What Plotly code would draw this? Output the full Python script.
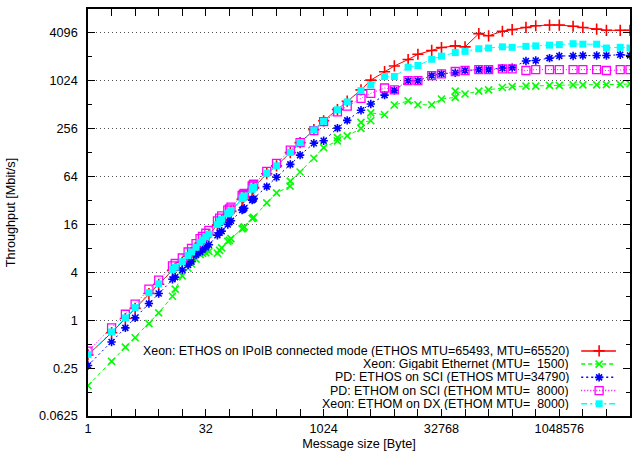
import plotly.graph_objects as go

# ---------------- data ----------------
sizes = [1, 2, 3, 4, 6, 8, 12, 13, 16, 19, 21, 24, 27, 29, 32, 35, 45, 48, 51, 61, 64, 67,
         93, 96, 99, 125, 128, 131, 192, 256, 384, 512, 768, 1024, 1536, 2048, 3072, 4096,
         6144, 8192, 12288, 16384, 24576, 32768, 49152, 65536, 98304, 131072, 196608,
         262144, 393216, 524288, 786432, 1048576, 1572864, 2097152, 3145728, 4194304,
         6291456, 8388608]

xeon_ipoib = [0.366, 0.697, 1.05, 1.41, 2.17, 2.83, 4.23, 4.53, 5.35, 6.36, 7.06, 8.11, 9.32,
              9.99, 11.0, 11.9, 15.7, 16.9, 18.1, 21.4, 22.3, 23.4, 33.1, 34.5, 35.8, 43.7,
              45.3, 46.5, 69.6, 87.4, 128, 171, 249, 322, 446, 568, 787, 1045, 1333, 1574,
              1898, 2210, 2469, 2683, 2817, 2740, 4011, 3769, 4299, 4513, 4803, 5042, 5148,
              5148, 4972, 4803, 4575, 4420, 4420, 4420]

pd_ethos_sci = [0.270, 0.532, 0.801, 1.07, 1.62, 2.17, 3.27, 3.48, 4.29, 4.96, 5.46, 6.63,
                7.21, 7.73, 8.28, 8.88, 11.7, 12.6, 13.2, 16.0, 17.1, 17.8, 24.3, 24.8, 25.6,
                32.4, 33.1, 33.8, 47.8, 62.7, 91.1, 119, 168, 181, 260, 326, 437, 523, 676,
                776, 1024, 1024, 1193, 1252, 1296, 1380, 1418, 1418, 1478, 1499, 1820, 1846,
                1978, 2105, 2105, 2135, 2135, 2135, 2179, 2135]

pd_ethom_sci = [0.409, 0.801, 1.19, 1.59, 2.46, 3.20, 4.82, 5.17, 6.06, 7.21, 8.0, 9.19, 10.6,
                11.3, 12.4, 13.5, 17.8, 19.2, 20.5, 24.3, 25.1, 26.4, 36.8, 38.1, 39.4, 48.5,
                49.9, 51.3, 74.5, 93.7, 138, 171, 242, 315, 416, 491, 617, 714, 832, 787,
                1031, 1031, 1193, 1252, 1342, 1380, 1418, 1418, 1448, 1448, 1380, 1418, 1418,
                1418, 1418, 1418, 1418, 1380, 1418, 1418]

xeon_ethom_dx = [0.369, 0.712, 1.07, 1.44, 2.22, 2.87, 4.35, 4.66, 5.46, 6.50, 7.21, 8.28,
                 9.51, 10.2, 11.2, 12.1, 16.0, 17.4, 18.6, 21.9, 22.6, 23.9, 33.8, 35.3, 36.5,
                 44.3, 45.9, 47.2, 70.5, 87.4, 129, 171, 247, 317, 443, 556, 771, 910, 1160,
                 1160, 1520, 1596, 1911, 2091, 2320, 2402, 2592, 2646, 2740, 2702, 2778, 2817,
                 2876, 2916, 2998, 2957, 2957, 2646, 2702, 2646]

sizes_gige = [1, 2, 3, 4, 6, 8, 12, 13, 16, 19, 21, 24, 27, 29, 32, 35, 45, 48, 51, 61, 64, 67,
              93, 96, 99, 125, 128, 131, 192, 256, 381, 384, 512, 768, 1024, 1533, 1536, 2048,
              3069, 3072, 4093, 4096, 6144, 8192, 12288, 16384, 24576, 32768, 49149, 49152,
              65536, 98304, 131072, 196608, 262144, 393216, 524288, 786432, 1048576, 1572864,
              2097152, 3145728, 4194304, 6291456, 8388608]

xeon_gige = [0.151, 0.304, 0.460, 0.603, 0.908, 1.24, 2.0, 2.46, 3.61, 4.50, 5.10, 5.86, 6.73,
             6.96, 7.06, 7.31, 6.96, 7.57, 8.11, 9.85, 10.1, 10.6, 14.1, 14.4, 14.9, 19.0, 19.3,
             19.7, 29.9, 39.9, 48.5, 56.1, 73.0, 109, 148, 180, 198, 208, 258, 307, 322, 405,
             383, 509, 572, 512, 512, 605, 635, 760, 699, 760, 787, 843, 867, 879, 879, 898,
             898, 910, 910, 910, 916, 923, 936]

labels = ["Xeon: ETHOS on IPoIB connected mode (ETHOS MTU=65493, MTU=65520)",
          "Xeon: Gigabit Ethernet (MTU=  1500)",
          "PD: ETHOS on SCI (ETHOS MTU=34790)",
          "PD: ETHOM on SCI (ETHOM MTU=  8000)",
          "Xeon: ETHOM on DX (ETHOM MTU=  8000)"]

x_tickvals = [1, 32, 1024, 32768, 1048576]
x_minor = [2 ** k for k in range(0, 24)]
y_tickvals = [0.0625, 0.25, 1, 4, 16, 64, 256, 1024, 4096]
y_ticktext = ["0.0625", "0.25", "1", "4", "16", "64", "256", "1024", "4096"]
y_minor = [2.0 ** k for k in range(-4, 14)]
grid_levels = [1, 4, 16, 64, 256, 1024, 4096]

# ---------------- styles ----------------
FONT = "Liberation Sans, Arial, sans-serif"
FS = 12.7
KEY_FS = 12.4
styles = [
    dict(color="#ff0000", dash="solid", symbol="cross-thin", size=8, mlw=1.6, xs=sizes, ys=xeon_ipoib),
    dict(color="#00ff00", dash="4px,3px", symbol="x-thin", size=7, mlw=1.6, xs=sizes_gige, ys=xeon_gige),
    dict(color="#0000ff", dash="2px,3px", symbol="asterisk-open", size=7, mlw=1.6, xs=sizes, ys=pd_ethos_sci),
    dict(color="#ff00ff", dash="1px,2px", symbol="square-open", size=8, mlw=1.3, xs=sizes, ys=pd_ethom_sci),
    dict(color="#00ffff", dash="6px,3px,2px,3px", symbol="square", size=7, mlw=0, xs=sizes, ys=xeon_ethom_dx),
]

fig = go.Figure()

# invisible trace to activate the grid overlay axis
fig.add_trace(go.Scatter(x=[1], y=[1], xaxis="x", yaxis="y3", mode="markers",
                         marker=dict(opacity=0), hoverinfo="skip", showlegend=False))

for st, name in zip(styles, labels):
    fig.add_trace(go.Scatter(
        x=st["xs"], y=st["ys"], name=name, mode="lines+markers",
        line=dict(color=st["color"], width=1, dash=st["dash"]),
        marker=dict(symbol=st["symbol"], size=st["size"], color=st["color"],
                    line=dict(color=st["color"], width=st["mlw"])),
        showlegend=False))

# ---------------- custom gnuplot-style key ----------------
key_y = [0.160, 0.1275, 0.095, 0.0625, 0.030]
for st, name, ky in zip(styles, labels, key_y):
    fig.add_trace(go.Scatter(x=[0.910, 0.974], y=[ky, ky], xaxis="x2", yaxis="y2", mode="lines",
                             line=dict(color=st["color"], width=1.5, dash=st["dash"]),
                             hoverinfo="skip", showlegend=False))
    fig.add_trace(go.Scatter(x=[0.943], y=[ky], xaxis="x2", yaxis="y2", mode="markers",
                             marker=dict(symbol=st["symbol"], size=st["size"], color=st["color"],
                                         line=dict(color=st["color"], width=st["mlw"])),
                             hoverinfo="skip", showlegend=False))
    fig.add_annotation(x=0.8915, y=ky, xref="paper", yref="paper", xanchor="right",
                       yanchor="middle", text=name, showarrow=False, height=12,
                       font=dict(family=FONT, size=KEY_FS, color="black"))

axis_common = dict(showline=True, linecolor="black", linewidth=1.5, mirror="allticks",
                   ticks="inside", ticklen=7, tickwidth=1, tickcolor="black",
                   zeroline=False, showgrid=False,
                   tickfont=dict(family=FONT, size=FS, color="black"))

fig.update_layout(
    width=634, height=459, autosize=False,
    margin=dict(l=88, r=2, t=9, b=43),
    paper_bgcolor="white", plot_bgcolor="white",
    font=dict(family=FONT, size=FS, color="black"),
    showlegend=False,
    xaxis=dict(type="log", range=[0, 6.92369], tickmode="array", tickvals=x_tickvals,
               ticktext=[str(v) for v in x_tickvals], ticklabelstandoff=0,
               minor=dict(tickmode="array", tickvals=x_minor, ticks="inside", ticklen=4,
                          tickcolor="black", tickwidth=1),
               title=dict(text="Message size [Byte]", standoff=4,
                          font=dict(family=FONT, size=FS)),
               **axis_common),
    yaxis=dict(type="log", range=[-1.20412, 3.91339], tickmode="array", tickvals=y_tickvals,
               ticktext=y_ticktext, ticklabelstandoff=6,
               minor=dict(tickmode="array", tickvals=y_minor, ticks="inside", ticklen=4,
                          tickcolor="black", tickwidth=1),
               title=dict(text="Throughput [Mbit/s]", standoff=20,
                          font=dict(family=FONT, size=FS)),
               **axis_common),
    yaxis3=dict(type="log", range=[-1.20412, 3.91339], overlaying="y", anchor="x",
                tickmode="array", tickvals=grid_levels, showticklabels=False, ticks="",
                showgrid=True, gridcolor="#555555", griddash="1px,3px", gridwidth=1,
                showline=False, zeroline=False),
    xaxis2=dict(range=[0, 1], overlaying="x", anchor="y2", visible=False),
    yaxis2=dict(range=[0, 1], overlaying="y", anchor="x2", visible=False),
)

fig.write_html("out.html")
